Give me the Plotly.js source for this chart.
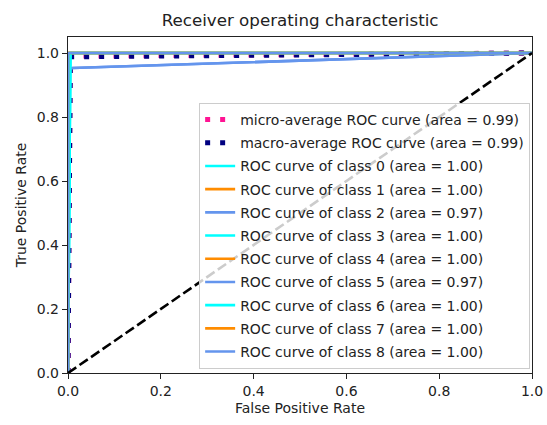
<!DOCTYPE html>
<html><head><meta charset="utf-8">
<script src="https://cdn.plot.ly/plotly-3.0.1.min.js"></script>
<style>html,body{margin:0;padding:0;background:#fff}</style>
</head><body>
<div id="chart" style="width:547px;height:425px"></div>
<script>
// Data
const microFpr = [0, 0.005, 1];
const microTpr = [0, 0.99, 1];
const macroFpr = [0, 0.005, 1];
const macroTpr = [0, 0.988, 1];
const classNames = ['0','1','2','3','4','5','6','7','8'];
const classAreas = ['1.00','1.00','0.97','1.00','1.00','0.97','1.00','1.00','1.00'];
const classFpr = [
  [0, 0.005, 1],
  [0, 0, 1],
  [0, 0, 0.01, 1],
  [0, 0.005, 1],
  [0, 0, 1],
  [0, 0, 0.01, 1],
  [0, 0.005, 1],
  [0, 0, 1],
  [0, 0, 1]
];
const classTpr = [
  [0, 1, 1],
  [0, 1, 1],
  [0, 0.95, 0.953, 1],
  [0, 1, 1],
  [0, 1, 1],
  [0, 0.95, 0.953, 1],
  [0, 1, 1],
  [0, 1, 1],
  [0, 1, 1]
];
const diagX = [0, 1];
const diagY = [0, 1];
const colors = ['aqua', 'darkorange', 'cornflowerblue'];

const traces = [];
traces.push({x: microFpr, y: microTpr, mode: 'lines', name: 'micro-average ROC curve (area = 0.99)',
  legendgroup: 'micro', line: {color: 'deeppink', width: 5, dash: '5px,10px'}});
traces.push({x: macroFpr, y: macroTpr, mode: 'lines', name: 'macro-average ROC curve (area = 0.99)',
  legendgroup: 'macro', line: {color: 'navy', width: 5, dash: '5px,10px'}});
classNames.forEach((c, i) => {
  traces.push({x: classFpr[i], y: classTpr[i], mode: 'lines', legendgroup: 'c' + c,
    name: 'ROC curve of class ' + c + ' (area = ' + classAreas[i] + ')',
    line: {color: colors[i % 3], width: 2.6}});
});
traces.push({x: diagX, y: diagY, mode: 'lines', showlegend: false, legendgroup: 'diag',
  line: {color: 'black', width: 2.6, dash: '10px,4px'}});

const fam = 'DejaVu Sans';
const layout = {
  width: 547, height: 425,
  margin: {l: 68, r: 15, t: 37, b: 52},
  paper_bgcolor: '#fff', plot_bgcolor: '#fff',
  font: {family: fam, size: 14, color: '#222'},
  showlegend: true,
  title: {text: 'Receiver operating characteristic', font: {family: fam, size: 16.7, color: '#222'},
    x: 0.5486, xanchor: 'center', y: 0.952, yanchor: 'middle'},
  xaxis: {range: [0, 1], tickvals: [0, 0.2, 0.4, 0.6, 0.8, 1.0], ticktext: ['0.0','0.2','0.4','0.6','0.8','1.0'],
    showgrid: false, zeroline: false, showline: true, linecolor: '#222', linewidth: 1.2, mirror: true,
    ticks: 'outside', ticklen: 5, tickcolor: '#222', tickfont: {family: fam, size: 14, color: '#222'},
    title: {text: 'False Positive Rate', font: {family: fam, size: 14, color: '#222'}, standoff: 5}},
  yaxis: {range: [0, 1.05], tickvals: [0, 0.2, 0.4, 0.6, 0.8, 1.0], ticktext: ['0.0','0.2','0.4','0.6','0.8','1.0'],
    showgrid: false, zeroline: false, showline: true, linecolor: '#222', linewidth: 1.2, mirror: true,
    ticks: 'outside', ticklen: 5, tickcolor: '#222', tickfont: {family: fam, size: 14, color: '#222'},
    title: {text: 'True Positive Rate', font: {family: fam, size: 14, color: '#222'}, standoff: 6}},
  legend: {x: 0.996, xanchor: 'right', y: 0.012, yanchor: 'bottom', itemwidth: 30,
    traceorder: 'grouped', tracegroupgap: 2,
    bgcolor: 'rgba(255,255,255,0.8)', bordercolor: '#ccc', borderwidth: 1,
    font: {family: fam, size: 14, color: '#222'}}
};
Plotly.newPlot('chart', traces, layout, {displayModeBar: false, staticPlot: true});
</script>
</body></html>
